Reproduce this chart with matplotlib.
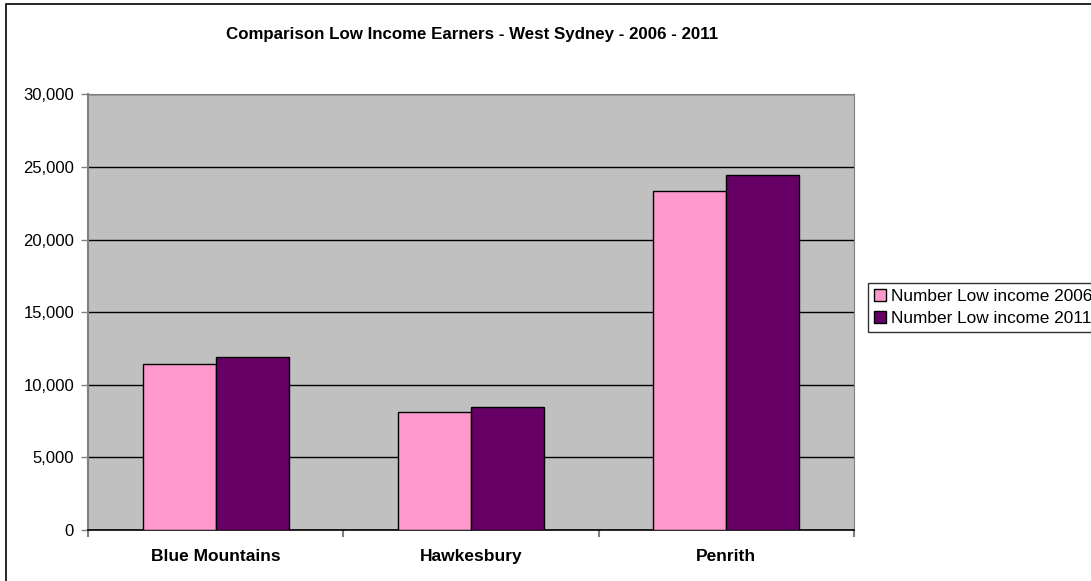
import numpy as np
import matplotlib
matplotlib.use("Agg")
import matplotlib.pyplot as plt
from matplotlib.patches import Rectangle
from matplotlib.ticker import FuncFormatter

plt.rcParams["font.family"] = ["Liberation Sans", "DejaVu Sans"]

categories = ["Blue Mountains", "Hawkesbury", "Penrith"]
low_2006 = [11400, 8100, 23350]
low_2011 = [11900, 8480, 24450]
series_names = ["Number Low income 2006", "Number Low income 2011"]

W, H = 1091, 581
fig = plt.figure(figsize=(W / 100, H / 100), dpi=100)

# outer chart border (runs off the right/bottom of the image like the source)
fig.patches.append(Rectangle((6 / W, -0.1), 1.2, 1 - 4 / H + 0.1, transform=fig.transFigure,
                             fill=False, ec="black", lw=1.2))

ax = fig.add_axes([88 / W, 1 - 530 / H, 766 / W, 435.7 / H])
ax.set_facecolor("#C0C0C0")

x = np.arange(len(categories))
w = 73 / 255
ax.bar(x - w / 2, low_2006, w, color="#FF99CC", edgecolor="black", lw=1, label=series_names[0], zorder=3)
ax.bar(x + w / 2, low_2011, w, color="#660066", edgecolor="black", lw=1, label=series_names[1], zorder=3)

ax.set_xlim(-0.5, len(categories) - 0.5)
ax.set_ylim(0, 30000)
ax.set_yticks(np.arange(0, 30001, 5000))
ax.yaxis.set_major_formatter(FuncFormatter(lambda v, p: f"{int(v):,}"))
ax.yaxis.grid(True, color="black", lw=1, zorder=1)
ax.set_axisbelow(True)

ax.set_xticks(x)
ax.set_xticklabels(categories, fontweight="bold", fontsize=12.5)
ax.set_xticks(np.arange(-0.5, len(categories)), minor=True)
ax.tick_params(axis="x", which="major", length=0, pad=14)
ax.tick_params(axis="x", which="minor", length=5, color="#808080", width=1.5)
ax.tick_params(axis="y", length=5, color="#808080", width=1, labelsize=12, pad=5)

for s in ["left", "right", "top"]:
    ax.spines[s].set_color("#808080")
ax.spines["left"].set_linewidth(1.5)
ax.spines["bottom"].set_color("black")
ax.spines["bottom"].set_linewidth(1.2)

fig.text(472 / W, 1 - 35 / H, "Comparison Low Income Earners - West Sydney - 2006 - 2011",
         ha="center", va="center", fontsize=12.2, fontweight="bold")

leg = fig.legend(loc="upper left", bbox_to_anchor=(868 / W, 1 - 283 / H), fontsize=12.4,
                 frameon=True, fancybox=False, edgecolor="black", handlelength=0.7,
                 handleheight=0.7, handletextpad=0.3, borderpad=0.35, labelspacing=0.4,
                 borderaxespad=0)
leg.get_frame().set_linewidth(1)

fig.savefig("out.png", dpi=100)
